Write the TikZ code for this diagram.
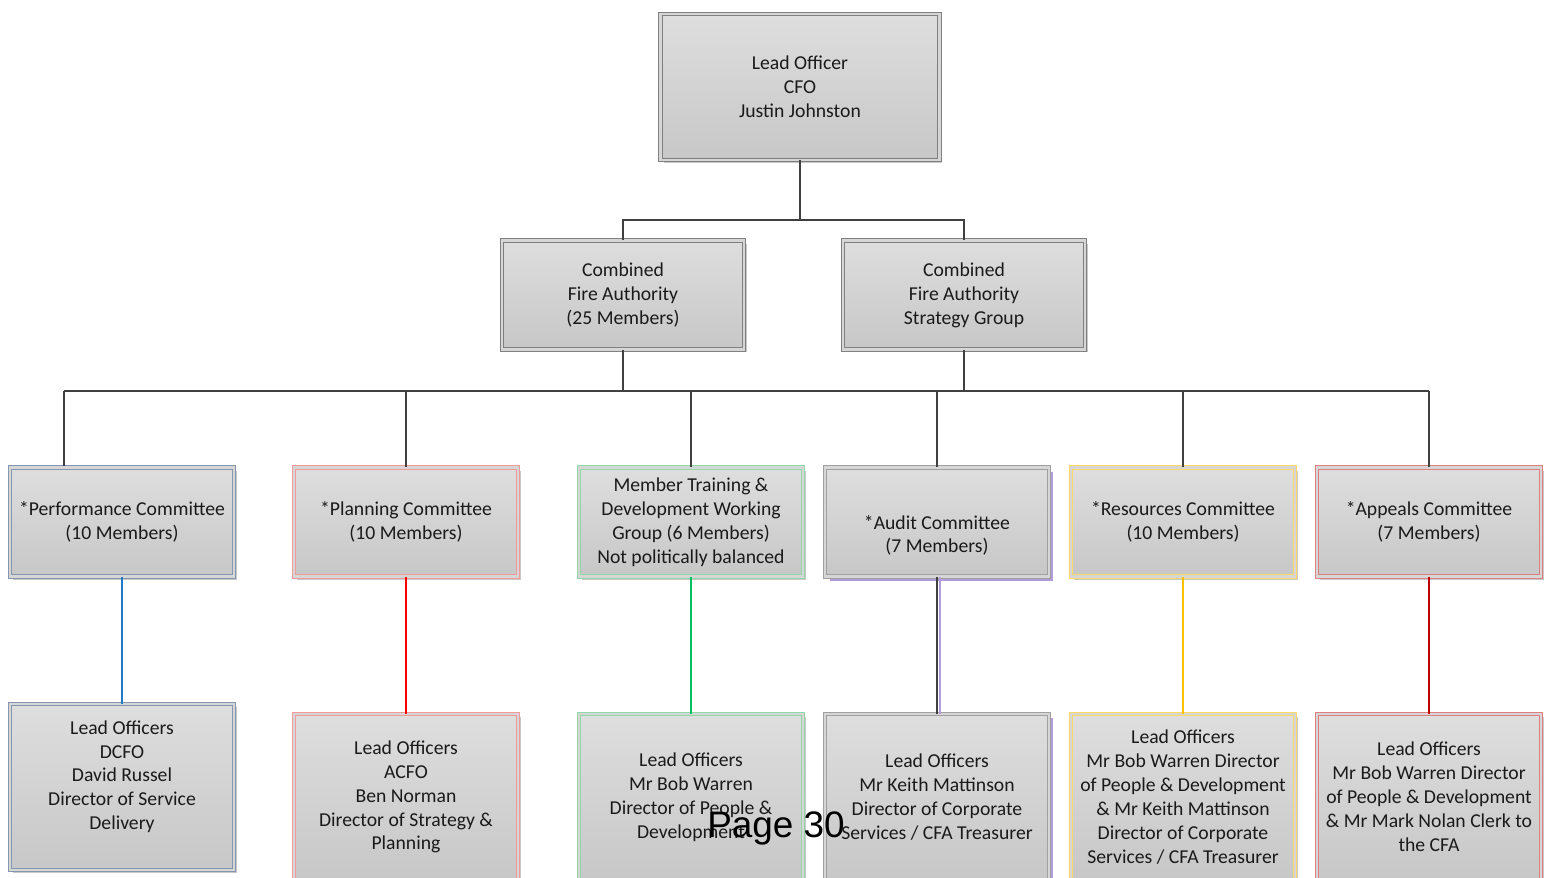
\documentclass[tikz,border=0pt]{standalone}
\usepackage{fontspec}
\setmainfont{Carlito}
\newfontfamily\pagefont{Liberation Sans}
\usetikzlibrary{shadows,backgrounds}
\definecolor{boxtop}{HTML}{DEDEDE}
\definecolor{boxbot}{HTML}{C7C7C7}
\definecolor{boxmid}{HTML}{D6D6D6}
\definecolor{txt}{HTML}{1A1A1A}
\definecolor{graybd}{HTML}{808080}
\definecolor{shadowgray}{HTML}{C8C8C8}
\definecolor{perfbd}{HTML}{8496B0}
\definecolor{planbd}{HTML}{F29A9A}
\definecolor{mtdbd}{HTML}{8FD9A8}
\definecolor{auditbd}{HTML}{A0A0A0}
\definecolor{auditsh}{HTML}{B49CDA}
\definecolor{resbd}{HTML}{FFD966}
\definecolor{appbd}{HTML}{E07F7F}
\definecolor{conn}{HTML}{404040}
\definecolor{cblue}{HTML}{1F7BC8}
\definecolor{cred}{HTML}{FF0000}
\definecolor{cgreen}{HTML}{00C060}
\definecolor{cyellow}{HTML}{FFC000}
\definecolor{cdred}{HTML}{C00000}
\definecolor{faintc}{HTML}{E2E2E2}
\tikzset{
  box/.style 2 args={draw=#1, double=boxmid, double distance=0.05cm, line width=0.5pt,
    top color=boxtop, bottom color=boxbot, align=center, text=txt, inner sep=0pt,
    font=\fontsize{11.2}{13.6}\selectfont,
    drop shadow={shadow xshift=0.06cm, shadow yshift=-0.06cm, fill=#2, opacity=1}},
  auditbox/.style={draw=auditbd, double=boxmid, double distance=0.05cm, line width=0.5pt,
    top color=boxtop, bottom color=boxbot, align=center, text=txt, inner sep=0pt,
    font=\fontsize{11.2}{13.6}\selectfont,
    drop shadow={shadow xshift=0.09cm, shadow yshift=-0.08cm, fill=auditsh, opacity=1}},
  topsize/.style={minimum width=5.58cm, minimum height=2.92cm},
  midsize/.style={minimum width=4.84cm, minimum height=2.18cm},
  comsize/.style={minimum width=4.48cm, minimum height=2.18cm},
  leadsize/.style={minimum width=4.48cm, minimum height=3.32cm},
  link/.style={draw=conn, line width=1.1pt},
  clink/.style={draw=#1, line width=1.1pt},
  faint/.style={draw=faintc, line width=1.1pt}
}
\begin{document}
\begin{tikzpicture}[x=0.02cm, y=-0.02cm]
\useasboundingbox[fill=white] (0,0) rectangle (1546,877);
\coordinate (midY) at (0,220);
\coordinate (busY) at (0,391);
\coordinate (fy) at (0,770);
\coordinate (perfTop) at (64,466);

\node[box={graybd}{shadowgray}, topsize] (top) at (800,87) {Lead Officer\\CFO\\Justin Johnston};
\node[box={graybd}{shadowgray}, midsize] (cfa) at (623,295) {Combined\\Fire Authority\\(25 Members)};
\node[box={graybd}{shadowgray}, midsize] (strat) at (964,295) {Combined\\Fire Authority\\Strategy Group};

\node[box={perfbd}{shadowgray}, comsize] (perf) at (122,522) {*Performance Committee\\(10 Members)};
\node[box={planbd}{shadowgray}, comsize] (plan) at (406,522) {*Planning Committee\\(10 Members)};
\node[box={mtdbd}{shadowgray}, comsize] (mtd) at (691,522) {Member Training \&\\Development Working\\Group (6 Members)\\Not politically balanced};
\node[auditbox, comsize] (audit) at (937,522) {\strut\\{*}Audit Committee\\(7 Members)};
\node[box={resbd}{shadowgray}, comsize] (res) at (1183,522) {*Resources Committee\\(10 Members)};
\node[box={appbd}{shadowgray}, comsize] (app) at (1429,522) {*Appeals Committee\\(7 Members)};

\node[box={perfbd}{shadowgray}, leadsize] (leadA) at (122,787) {Lead Officers\\DCFO\\David Russel\\Director of Service\\Delivery\\\mbox{}};
\node[box={planbd}{shadowgray}, leadsize] (leadB) at (406,797) {Lead Officers\\ACFO\\Ben Norman\\Director of Strategy \&\\Planning};
\node[box={mtdbd}{shadowgray}, leadsize] (leadC) at (691,797) {Lead Officers\\Mr Bob Warren\\Director of People \&\\Development};
\node[auditbox, leadsize] (leadD) at (937,797) {Lead Officers\\Mr Keith Mattinson\\Director of Corporate\\Services / CFA Treasurer};
\node[box={resbd}{shadowgray}, leadsize] (leadE) at (1183,797) {Lead Officers\\Mr Bob Warren Director\\of People \& Development\\\& Mr Keith Mattinson\\Director of Corporate\\Services / CFA Treasurer};
\node[box={appbd}{shadowgray}, leadsize] (leadF) at (1429,797) {Lead Officers\\Mr Bob Warren Director\\of People \& Development\\\& Mr Mark Nolan Clerk to\\the CFA};

\begin{scope}[on background layer]
\draw[faint] (leadA.center |- fy) -- (leadF.center |- fy);
\end{scope}

% top level connectors
\draw[link] (top.south) -- (top.south |- midY);
\draw[link] (cfa.north) -- (cfa.north |- midY) -- (strat.north |- midY) -- (strat.north);
\draw[link] (cfa.south) -- (cfa.south |- busY);
\draw[link] (strat.south) -- (strat.south |- busY);
\draw[link] (perfTop |- busY) -- (app.north |- busY);
\draw[link] (perfTop |- busY) -- (perfTop);
\draw[link] (plan.north |- busY) -- (plan.north);
\draw[link] (mtd.north |- busY) -- (mtd.north);
\draw[link] (audit.north |- busY) -- (audit.north);
\draw[link] (res.north |- busY) -- (res.north);
\draw[link] (app.north |- busY) -- (app.north);

% committee to lead officers
\draw[clink=cblue] (perf.south) -- (leadA.north);
\draw[clink=cred] (plan.south) -- (leadB.north);
\draw[clink=cgreen] (mtd.south) -- (leadC.north);
\draw[draw=auditsh, line width=1.4pt] ([xshift=0.06cm]audit.south) -- ([xshift=0.06cm]leadD.north);
\draw[link] (audit.south) -- (leadD.north);
\draw[clink=cyellow] (res.south) -- (leadE.north);
\draw[clink=cdred] (app.south) -- (leadF.north);

\node[font=\pagefont\fontsize{21}{25}\selectfont, anchor=base, inner sep=0pt, text=black] (pg) at (776,837) {Page 30};
\end{tikzpicture}
\end{document}
